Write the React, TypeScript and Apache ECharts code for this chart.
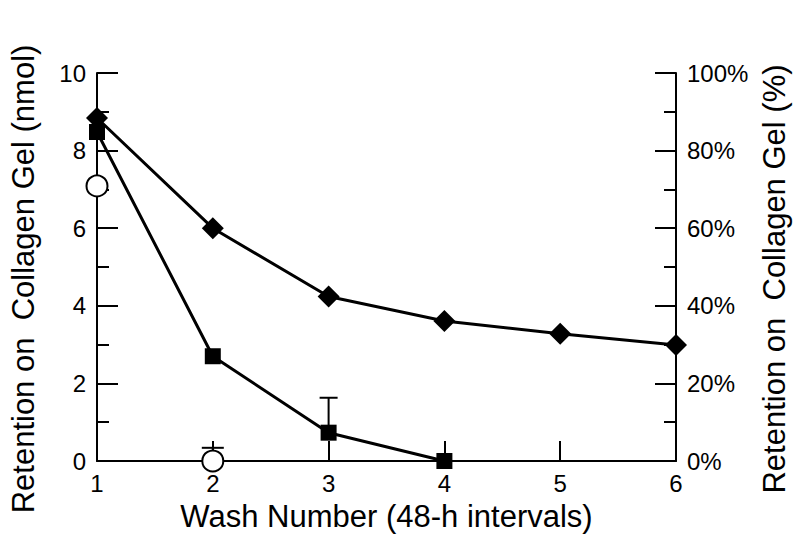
import React, { useEffect, useRef } from "react";
import * as echarts from "echarts";

const washNumbers = [1, 2, 3, 4, 5, 6];
const diamondValues = [8.84, 6.0, 4.24, 3.61, 3.28, 2.99];
const squareWash = [1, 2, 3, 4];
const squareValues = [8.48, 2.7, 0.73, 0];
const circleWash = [1, 2];
const circleValues = [7.09, 0];
// error bars: [wash, value, upper, cap width]
const errorBars = [
  [3, 0.73, 1.63, 18],
  [2, 0, 0.34, 22],
];
const leftTicks = { min: 0, max: 10, interval: 2 };
const rightTicks = { min: 0, max: 100, interval: 20 };

const FONT = "'Liberation Sans', Arial, Helvetica, sans-serif";

export default function App() {
  const ref = useRef<HTMLDivElement>(null);
  useEffect(() => {
    if (!ref.current) return;
    const chart = echarts.init(ref.current, null, { renderer: "svg" });
    const axisLine = { show: true, lineStyle: { color: "#000", width: 2 } };
    chart.setOption({
      animation: false,
      backgroundColor: "#fff",
      textStyle: { fontFamily: FONT, color: "#000" },
      grid: { left: 94, right: 124, top: 73, bottom: 85, containLabel: false },
      xAxis: {
        type: "value",
        min: 1,
        max: 6,
        interval: 1,
        name: "Wash Number (48-h intervals)",
        nameLocation: "middle",
        nameGap: 40,
        nameTextStyle: { fontSize: 31, color: "#000", fontFamily: FONT },
        axisLine: { ...axisLine, onZero: false },
        axisTick: { show: true, inside: true, length: 20, lineStyle: { color: "#000", width: 2 } },
        axisLabel: { fontSize: 24, color: "#000", margin: 10, fontFamily: FONT },
        splitLine: { show: false },
      },
      yAxis: [
        {
          type: "value",
          position: "left",
          ...leftTicks,
          name: "Retention on  Collagen Gel (nmol)",
          nameLocation: "middle",
          nameRotate: 90,
          nameGap: 58,
          nameTextStyle: { fontSize: 31, color: "#000", fontFamily: FONT, padding: [0, 24, 0, 0] },
          axisLine,
          axisTick: { show: true, inside: true, length: 21, lineStyle: { color: "#000", width: 2 } },
          minorTick: { show: true, splitNumber: 2, length: 12, lineStyle: { color: "#000", width: 2 } },
          axisLabel: { fontSize: 24, color: "#000", margin: 11, fontFamily: FONT },
          splitLine: { show: false },
          minorSplitLine: { show: false },
        },
        {
          type: "value",
          position: "right",
          ...rightTicks,
          name: "Retention on  Collagen Gel (%)",
          nameLocation: "middle",
          nameRotate: 90,
          nameGap: 77,
          nameTextStyle: { fontSize: 31, color: "#000", fontFamily: FONT, padding: [0, 24, 0, 0] },
          axisLine,
          axisTick: { show: true, inside: true, length: 21, lineStyle: { color: "#000", width: 2 } },
          minorTick: { show: true, splitNumber: 2, length: 12, lineStyle: { color: "#000", width: 2 } },
          axisLabel: { fontSize: 24, color: "#000", margin: 11, formatter: "{value}%", fontFamily: FONT },
          splitLine: { show: false },
          minorSplitLine: { show: false },
        },
      ],
      series: [
        {
          type: "custom",
          z: 3,
          data: errorBars,
          renderItem: (params: any, api: any) => {
            const x = api.value(0);
            const lo = api.coord([x, api.value(1)]);
            const hi = api.coord([x, api.value(2)]);
            const half = api.value(3) / 2;
            const style = { stroke: "#000", lineWidth: 2 };
            return {
              type: "group",
              children: [
                { type: "line", shape: { x1: lo[0], y1: lo[1], x2: hi[0], y2: hi[1] }, style },
                { type: "line", shape: { x1: hi[0] - half, y1: hi[1], x2: hi[0] + half, y2: hi[1] }, style },
              ],
            };
          },
        },
        {
          type: "line",
          z: 4,
          data: washNumbers.map((w, i) => [w, diamondValues[i]]),
          symbol: "diamond",
          symbolSize: [22, 22],
          itemStyle: { color: "#000" },
          lineStyle: { color: "#000", width: 3 },
        },
        {
          type: "line",
          z: 4,
          data: squareWash.map((w, i) => [w, squareValues[i]]),
          symbol: "rect",
          symbolSize: 16,
          itemStyle: { color: "#000" },
          lineStyle: { color: "#000", width: 3 },
        },
        {
          type: "scatter",
          z: 5,
          data: circleWash.map((w, i) => [w, circleValues[i]]),
          symbol: "circle",
          symbolSize: 21,
          itemStyle: { color: "#fff", borderColor: "#000", borderWidth: 2, opacity: 1 },
        },
      ],
    });
    return () => chart.dispose();
  }, []);
  return (
    <div
      ref={ref}
      style={{ position: "fixed", left: 0, top: 0, width: 800, height: 546, background: "#fff" }}
    />
  );
}
